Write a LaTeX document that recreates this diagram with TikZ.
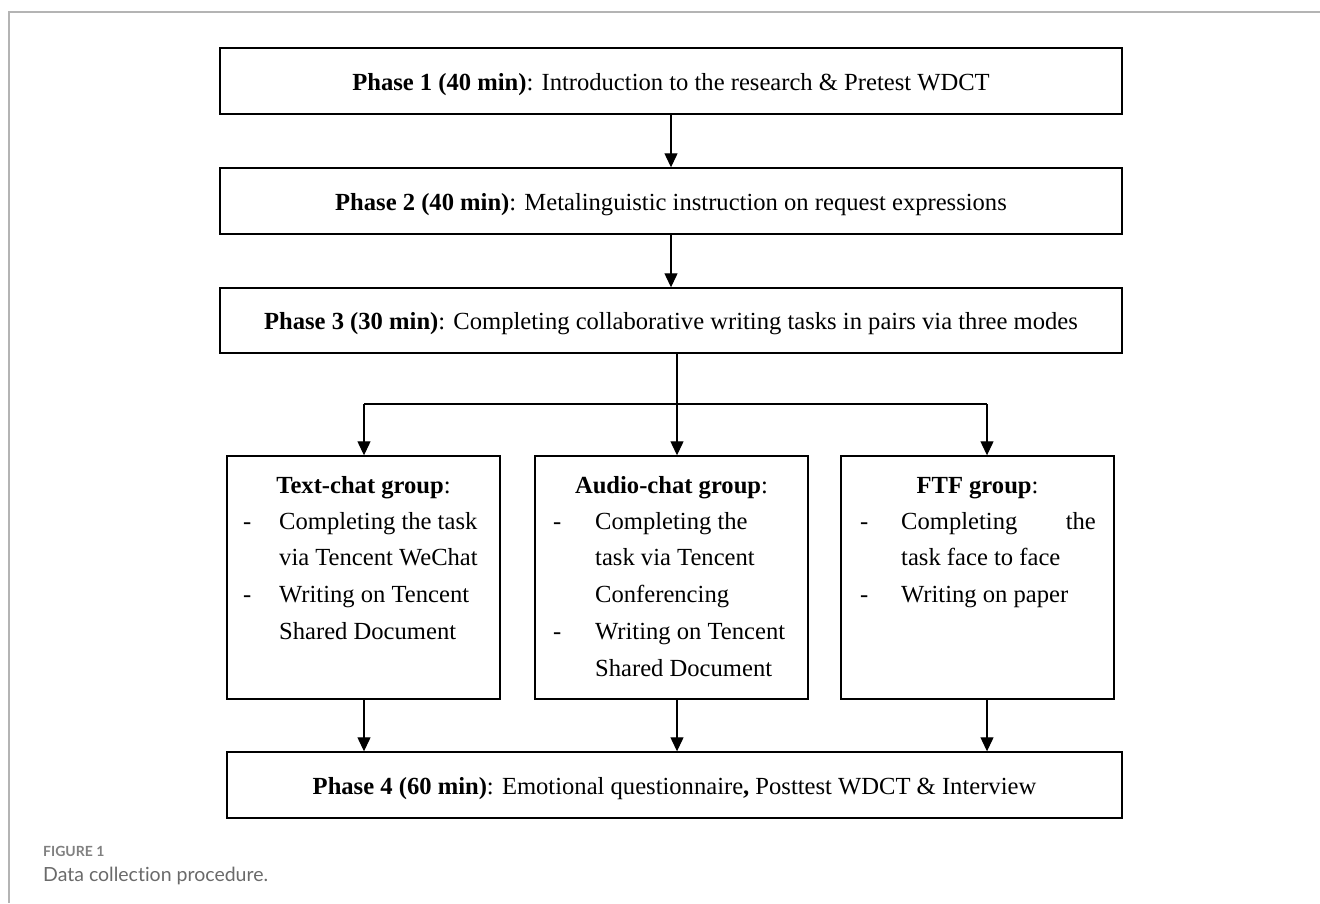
\documentclass[tikz,border=0pt]{standalone}
\usepackage{fontspec}
\setmainfont{Liberation Serif}
\newfontfamily\capfont[Ligatures=NoCommon]{Lato}
\usetikzlibrary{arrows.meta}
\definecolor{framegray}{HTML}{B4B4B4}
\definecolor{capgray}{HTML}{808080}
\definecolor{captext}{HTML}{6A6A6A}
\begin{document}
\begin{tikzpicture}[x=1pt,y=-1pt,
  phasebox/.style={draw, line width=1.4pt, inner sep=0pt, text height=20pt, text depth=2pt, font=\fontsize{24.6}{28}\selectfont},
  groupbox/.style={draw, line width=1.4pt, inner sep=0pt, minimum width=273pt, minimum height=243pt},
  conn/.style={line width=1.2pt},
  arr/.style={line width=1.2pt, -{Triangle[width=13pt,length=14pt]}},
  gtext/.style={inner sep=0pt, anchor=base west, font=\fontsize{24.6}{28}\selectfont},
  ghead/.style={inner sep=0pt, anchor=base, font=\fontsize{24.6}{28}\selectfont}
]
\useasboundingbox (0,0) rectangle (1320,903);
\draw[framegray, line width=1.5pt] (1320,12) -- (9,12) -- (9,903);

% phase boxes
\node[phasebox, minimum width=902pt, minimum height=66pt] (p1) at (671,81)
  {\textbf{Phase 1 (40 min)}: Introduction to the research \& Pretest WDCT};
\node[phasebox, minimum width=902pt, minimum height=66pt] (p2) at (671,201)
  {\textbf{Phase 2 (40 min)}: Metalinguistic instruction on request expressions};
\node[phasebox, minimum width=902pt, minimum height=65pt] (p3) at (671,320.5)
  {\textbf{Phase 3 (30 min)}: Completing collaborative writing tasks in pairs via three modes};
\node[phasebox, minimum width=895pt, minimum height=66pt] (p4) at (674.5,785)
  {\textbf{Phase 4 (60 min)}: Emotional questionnaire\textbf{,} Posttest WDCT \& Interview};

% group boxes
\node[groupbox] (gA) at (363.5,577.5) {};
\node[groupbox] (gB) at (671.5,577.5) {};
\node[groupbox] (gC) at (977.5,577.5) {};

% group A text
\node[ghead] (hA) at (363.5,493) {\textbf{Text-chat group}:};
\node[gtext] (dA1) at (243,529) {-};
\node[gtext] (tA1) at (279,529) {Completing the task};
\node[gtext] (tA2) at (279,565) {via Tencent WeChat};
\node[gtext] (dA2) at (243,602) {-};
\node[gtext] (tA3) at (279,602) {Writing on Tencent};
\node[gtext] (tA4) at (279,639) {Shared Document};

% group B text
\node[ghead] (hB) at (671.5,493) {\textbf{Audio-chat group}:};
\node[gtext] (dB1) at (553,529) {-};
\node[gtext] (tB1) at (595,529) {Completing the};
\node[gtext] (tB2) at (595,565) {task via Tencent};
\node[gtext] (tB3) at (595,602) {Conferencing};
\node[gtext] (dB2) at (553,639) {-};
\node[gtext] (tB4) at (595,639) {Writing on Tencent};
\node[gtext] (tB5) at (595,676) {Shared Document};

% group C text
\node[ghead] (hC) at (977.5,493) {\textbf{FTF group}:};
\node[gtext] (dC1) at (860,529) {-};
\node[gtext] (tC1) at (901,529) {Completing};
\node[gtext, anchor=base east] (tC1b) at (1096,529) {the};
\node[gtext] (tC2) at (901,565) {task face to face};
\node[gtext] (dC2) at (860,602) {-};
\node[gtext] (tC3) at (901,602) {Writing on paper};

% connectors
\draw[arr] (p1) -- (p2);
\draw[arr] (p2) -- (p3);
\coordinate (j) at (677,404);
\coordinate (jA) at (364,404);
\coordinate (jC) at (987,404);
\draw[conn] (p3.south -| j) -- (j);
\draw[conn] (jA) -- (jC);
\draw[arr] (jA) -- (jA |- gA.north);
\draw[arr] (j) -- (j |- gB.north);
\draw[arr] (jC) -- (jC |- gC.north);
\draw[arr] (gA.south -| jA) -- (jA |- p4.north);
\draw[arr] (gB.south -| j) -- (j |- p4.north);
\draw[arr] (gC.south -| jC) -- (jC |- p4.north);

% caption
\node[inner sep=0pt, anchor=base west, text=capgray, font=\capfont\bfseries\fontsize{14}{16}\selectfont] (figlab) at (43,856) {FIGURE 1};
\node[inner sep=0pt, anchor=base west, text=captext, font=\capfont\fontsize{19.5}{24}\selectfont] (figcap) at (43,881) {Data collection procedure.};
\end{tikzpicture}
\end{document}
